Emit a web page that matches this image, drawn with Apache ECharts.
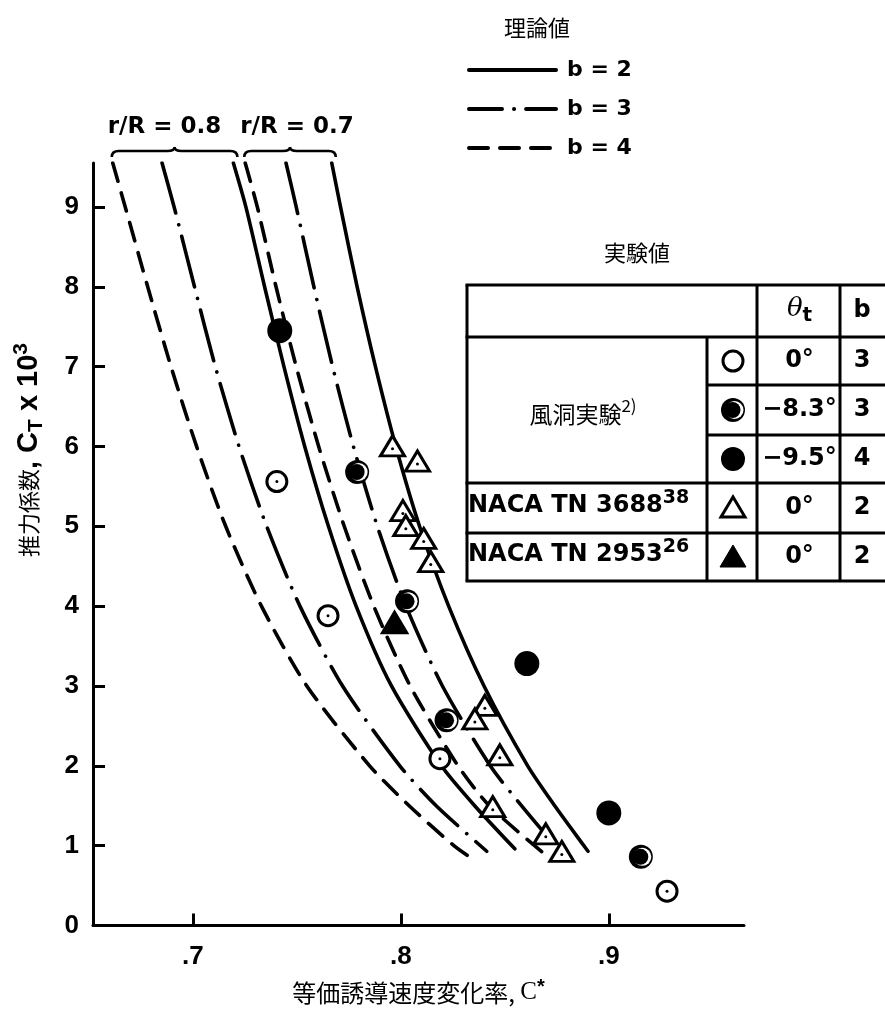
<!DOCTYPE html>
<html>
<head>
<meta charset="utf-8">
<script src="https://cdn.jsdelivr.net/npm/echarts@6/dist/echarts.min.js"></script>
<style>
  html, body { margin: 0; padding: 0; background: #fff; }
  #chart { width: 885px; height: 1010px; }
</style>
</head>
<body>
<div id="chart"></div>
<script>
// ---- Theory curves: [C*, CT x 10^3] ----
const theoryR08B4 = [[0.6615,9.55],[0.6675,9],[0.6783,8],[0.6895,7],[0.7018,6],[0.7158,5],[0.7330,4],[0.7548,3],[0.7850,2],[0.8040,1.5],[0.8255,1.0],[0.8330,0.86]];
const theoryR08B3 = [[0.6852,9.55],[0.6910,9],[0.7008,8],[0.7108,7],[0.7222,6],[0.7355,5],[0.7515,4],[0.7720,3],[0.7995,2],[0.8170,1.5],[0.8413,0.93]];
const theoryR08B2 = [[0.7195,9.55],[0.7255,9],[0.7345,8],[0.7438,7],[0.7538,6],[0.7652,5],[0.7785,4],[0.7955,3],[0.8195,2],[0.8355,1.5],[0.8548,0.96]];
const theoryR07B4 = [[0.7252,9.55],[0.7310,9],[0.7400,8],[0.7497,7],[0.7605,6],[0.7728,5],[0.7870,4],[0.8045,3],[0.8275,2],[0.8425,1.5],[0.8680,0.92]];
const theoryR07B3 = [[0.7448,9.55],[0.7497,9],[0.7582,8],[0.7672,7],[0.7772,6],[0.7887,5],[0.8025,4],[0.8200,3],[0.8430,2],[0.8580,1.5],[0.8774,0.9]];
const theoryR07B2 = [[0.7668,9.55],[0.7710,9],[0.7790,8],[0.7878,7],[0.7976,6],[0.8090,5],[0.8230,4],[0.8400,3],[0.8610,2],[0.8740,1.5],[0.8880,1.0],[0.8900,0.93]];

// ---- Measurements ----
const windTunnel0 = [[0.7404,5.56],[0.765,3.88],[0.8188,2.09],[0.928,0.43]];        // θt = 0°,   b = 3
const windTunnel83 = [[0.779,5.68],[0.803,4.06],[0.822,2.57],[0.9154,0.86]];        // θt = -8.3°, b = 3
const windTunnel95 = [[0.7418,7.45],[0.8606,3.28],[0.900,1.41]];                    // θt = -9.5°, b = 4
const naca3688 = [[0.796,5.97],[0.808,5.78],[0.801,5.16],[0.8024,4.97],[0.811,4.81],[0.8144,4.52],
                  [0.8404,2.72],[0.8356,2.55],[0.8476,2.10],[0.8442,1.45],[0.8697,1.11],[0.8774,0.89]];
const naca2953 = [[0.797,3.76]];

// ---- Axis ticks ----
const xTicks = [0.7, 0.8, 0.9];
const xTickLabels = ['.7', '.8', '.9'];
const yTicks = [1, 2, 3, 4, 5, 6, 7, 8, 9];
const yTickLabels = [0, 1, 2, 3, 4, 5, 6, 7, 8, 9];
const X_MIN = 0.652, X_MAX = 0.965, Y_MIN = 0, Y_MAX = 9.55;

// ---- Text ----
const bladeGroups = ['r/R = 0.8', 'r/R = 0.7'];
const theoryTitle = '理論値';
const theoryLabels = ['b = 2', 'b = 3', 'b = 4'];
const expTitle = '実験値';
const expSources = ['風洞実験', 'NACA TN 3688', 'NACA TN 2953'];
const expRefs = ['2)', '38', '26'];
const expTheta = ['0°', '−8.3°', '−9.5°', '0°', '0°'];
const expB = ['3', '3', '4', '2', '2'];

const FONT_BOLD = '"DejaVu Sans", sans-serif';
const FONT_NUM = '"Liberation Sans", Arial, sans-serif';
const FONT_CJK = '"Noto Sans CJK JP", sans-serif';
const BLACK = '#000';

const LINE_W = 3.6;
const DASH = { solid: 'solid', dashDot: [52, 12, 0.1, 12], dashed: [19, 12] };

function curve(name, data, dash) {
  return {
    type: 'line', name, data, smooth: 0.25, symbol: 'none', silent: true, z: 2,
    lineStyle: { color: BLACK, width: LINE_W, type: dash, cap: 'round', join: 'round' }
  };
}

const braceData = [
  [theoryR08B4[0][0], theoryR08B2[0][0], Y_MAX, 0],
  [theoryR07B4[0][0], theoryR07B2[0][0], Y_MAX, 1]
];

const braceSeries = {
  type: 'custom', silent: true, clip: false, z: 3,
  data: braceData,
  renderItem(params, api) {
    const a = api.coord([api.value(0), api.value(2)]);
    const b = api.coord([api.value(1), api.value(2)]);
    const x1 = a[0] - 1, x2 = b[0] + 4, base = a[1];
    const yEnd = base - 6, yBar = base - 12, yTip = base - 16, xm = (x1 + x2) / 2, r = 7;
    const d = `M${x1},${yEnd} Q${x1},${yBar} ${x1 + r},${yBar} L${xm - r},${yBar} Q${xm},${yBar} ${xm},${yTip} ` +
              `Q${xm},${yBar} ${xm + r},${yBar} L${x2 - r},${yBar} Q${x2},${yBar} ${x2},${yEnd}`;
    return {
      type: 'group',
      children: [
        { type: 'path', shape: { pathData: d }, style: { fill: null, stroke: BLACK, lineWidth: 2.6 } },
        { type: 'text', x: x1 - 4, y: base - 36,
          style: { text: bladeGroups[api.value(3)], fill: BLACK, font: `bold 23px ${FONT_BOLD}`, align: 'left', verticalAlign: 'middle' } }
      ]
    };
  }
};

const triSize = [24, 20];
const triOffset = [0, -3];
const solidItem = (o) => Object.assign({ opacity: 1 }, o);

const series = [
  curve('R08B4', theoryR08B4, DASH.dashed),
  curve('R08B3', theoryR08B3, DASH.dashDot),
  curve('R08B2', theoryR08B2, DASH.solid),
  curve('R07B4', theoryR07B4, DASH.dashed),
  curve('R07B3', theoryR07B3, DASH.dashDot),
  curve('R07B2', theoryR07B2, DASH.solid),
  braceSeries,
  // open circles
  { type: 'scatter', data: windTunnel0, symbol: 'circle', symbolSize: 20, z: 5,
    itemStyle: solidItem({ color: '#fff', borderColor: BLACK, borderWidth: 3 }) },
  // half-filled circles: black disc, white crescent, black core
  { type: 'scatter', data: windTunnel83, symbol: 'circle', symbolSize: 24, z: 5, itemStyle: solidItem({ color: BLACK }) },
  { type: 'scatter', data: windTunnel83, symbol: 'circle', symbolSize: 18, symbolOffset: [1.5, 0], z: 6, itemStyle: solidItem({ color: '#fff' }) },
  { type: 'scatter', data: windTunnel83, symbol: 'circle', symbolSize: 16, symbolOffset: [-0.5, 0], z: 7, itemStyle: solidItem({ color: BLACK }) },
  // filled circles
  { type: 'scatter', data: windTunnel95, symbol: 'circle', symbolSize: 25, z: 5, itemStyle: solidItem({ color: BLACK }) },
  // open triangles
  { type: 'scatter', data: naca3688, symbol: 'triangle', symbolSize: triSize, symbolOffset: triOffset, z: 5,
    itemStyle: solidItem({ color: '#fff', borderColor: BLACK, borderWidth: 3 }) },
  // filled triangle
  { type: 'scatter', data: naca2953, symbol: 'triangle', symbolSize: [26, 22], symbolOffset: triOffset, z: 5,
    itemStyle: solidItem({ color: BLACK, borderColor: BLACK, borderWidth: 2 }) },
  // centre dots of the open markers
  { type: 'scatter', data: windTunnel0.concat(naca3688), symbol: 'circle', symbolSize: 3, z: 8, itemStyle: solidItem({ color: BLACK }) }
];

// ---- Legend of theory lines ----
const legendDash = [null, [33, 12, 0.1, 12], [19, 12]];
const graphics = [];
graphics.push({ type: 'text', x: 537, y: 28, style: { text: theoryTitle, fill: BLACK, font: `22px ${FONT_CJK}`, align: 'center', verticalAlign: 'middle' } });
theoryLabels.forEach((lab, i) => {
  const y = 70 + i * 39;
  graphics.push({ type: 'line', shape: { x1: 469, y1: y, x2: 556, y2: y },
    style: { stroke: BLACK, lineWidth: 4, lineCap: 'round', lineDash: legendDash[i] } });
  graphics.push({ type: 'text', x: 567, y: y, style: { text: lab, fill: BLACK, font: `bold 22px ${FONT_BOLD}`, align: 'left', verticalAlign: 'middle' } });
});

// ---- Table of measurements ----
const cols = [467, 707, 757, 840];
const rows = [285, 337, 385, 435, 483, 533, 581];
const tRight = 886;
const TW = 3;
const hLine = (y, x1, x2) => graphics.push({ type: 'line', shape: { x1, y1: y, x2, y2: y }, style: { stroke: BLACK, lineWidth: TW } });
const vLine = (x, y1, y2) => graphics.push({ type: 'line', shape: { x1: x, y1, x2: x, y2 }, style: { stroke: BLACK, lineWidth: TW } });
graphics.push({ type: 'text', x: 637, y: 253, style: { text: expTitle, fill: BLACK, font: `22px ${FONT_CJK}`, align: 'center', verticalAlign: 'middle' } });
[285, 337, 483, 533, 581].forEach(y => hLine(y, cols[0] - 1.5, tRight));
[385, 435].forEach(y => hLine(y, cols[1], tRight));
vLine(cols[0], rows[0], rows[6]);
vLine(cols[1], rows[1], rows[6]);
vLine(cols[2], rows[0], rows[6]);
vLine(cols[3], rows[0], rows[6]);

const rowMid = i => (rows[i] + rows[i + 1]) / 2;
const thetaX = (cols[2] + cols[3]) / 2 + 1;
const bX = 862;

// header
graphics.push({ type: 'text', x: thetaX, y: rowMid(0) - 2, style: {
  text: '{th|θ}{t|t}', align: 'center', verticalAlign: 'middle',
  rich: { th: { font: `italic 26px "DejaVu Serif", serif`, fill: BLACK, lineHeight: 34, verticalAlign: 'middle' },
          t: { font: `bold 20px ${FONT_BOLD}`, fill: BLACK, lineHeight: 20, verticalAlign: 'bottom' } } } });
graphics.push({ type: 'text', x: bX, y: rowMid(0), style: { text: 'b', fill: BLACK, font: `bold 24px ${FONT_BOLD}`, align: 'center', verticalAlign: 'middle' } });

// source names
const supRich = {
  m: { font: `bold 24px ${FONT_BOLD}`, fill: BLACK, lineHeight: 34, verticalAlign: 'middle' },
  j: { font: `23px ${FONT_CJK}`, fill: BLACK, lineHeight: 34, verticalAlign: 'middle' },
  s: { font: `bold 19px ${FONT_BOLD}`, fill: BLACK, lineHeight: 19, verticalAlign: 'top' },
  r: { font: `17px ${FONT_CJK}`, fill: BLACK, lineHeight: 17, verticalAlign: 'top' }
};
graphics.push({ type: 'text', x: (cols[0] + cols[1]) / 2 - 4, y: (rows[1] + rows[4]) / 2 + 4,
  style: { text: `{j|${expSources[0]}}{r|${expRefs[0]}}`, align: 'center', verticalAlign: 'middle', rich: supRich } });
graphics.push({ type: 'text', x: cols[0] + 1, y: rowMid(4) - 2,
  style: { text: `{m|${expSources[1]}}{s|${expRefs[1]}}`, align: 'left', verticalAlign: 'middle', rich: supRich } });
graphics.push({ type: 'text', x: cols[0] + 1, y: rowMid(5) - 2,
  style: { text: `{m|${expSources[2]}}{s|${expRefs[2]}}`, align: 'left', verticalAlign: 'middle', rich: supRich } });

// θt and b columns
expTheta.forEach((t, i) => {
  graphics.push({ type: 'text', x: thetaX, y: rowMid(i + 1), style: { text: t, fill: BLACK, font: `bold 24px ${FONT_BOLD}`, align: 'center', verticalAlign: 'middle' } });
  graphics.push({ type: 'text', x: bX, y: rowMid(i + 1), style: { text: expB[i], fill: BLACK, font: `bold 24px ${FONT_BOLD}`, align: 'center', verticalAlign: 'middle' } });
});

// marker keys
const kx = (cols[1] + cols[2]) / 2 + 1;
let ky = rowMid(1);
graphics.push({ type: 'circle', shape: { cx: kx, cy: ky, r: 10 }, style: { fill: '#fff', stroke: BLACK, lineWidth: 3 } });
ky = rowMid(2);
graphics.push({ type: 'circle', shape: { cx: kx, cy: ky, r: 12 }, style: { fill: BLACK } });
graphics.push({ type: 'circle', shape: { cx: kx + 1.5, cy: ky, r: 9 }, style: { fill: '#fff' } });
graphics.push({ type: 'circle', shape: { cx: kx - 0.5, cy: ky, r: 8 }, style: { fill: BLACK } });
ky = rowMid(3);
graphics.push({ type: 'circle', shape: { cx: kx, cy: ky, r: 12 }, style: { fill: BLACK } });
ky = rowMid(4);
graphics.push({ type: 'polygon', shape: { points: [[kx - 12, ky + 9], [kx + 12, ky + 9], [kx, ky - 11]] }, style: { fill: '#fff', stroke: BLACK, lineWidth: 3 } });
ky = rowMid(5);
graphics.push({ type: 'polygon', shape: { points: [[kx - 13, ky + 10], [kx + 13, ky + 10], [kx, ky - 12]] }, style: { fill: BLACK, stroke: BLACK, lineWidth: 1 } });

// ---- Y axis title ----
graphics.push({ type: 'text', x: 29, y: 450, rotation: Math.PI / 2, style: {
  text: '{c|推力係数}{l|, C}{sub|T}{l| x 10}{sup|3}', align: 'center', verticalAlign: 'middle',
  rich: {
    c: { font: `22px ${FONT_CJK}`, fill: BLACK, lineHeight: 36, verticalAlign: 'middle' },
    l: { font: `bold 29px ${FONT_NUM}`, fill: BLACK, lineHeight: 36, verticalAlign: 'middle' },
    sub: { font: `bold 21px ${FONT_NUM}`, fill: BLACK, lineHeight: 22, verticalAlign: 'bottom' },
    sup: { font: `bold 21px ${FONT_NUM}`, fill: BLACK, lineHeight: 22, verticalAlign: 'top' }
  } } });

const chart = echarts.init(document.getElementById('chart'), null, { renderer: 'canvas' });
chart.setOption({
  animation: false,
  backgroundColor: '#fff',
  grid: { left: 93, top: 163, width: 651, height: 764 },
  xAxis: {
    type: 'value', min: X_MIN, max: X_MAX,
    name: '{c|等価誘導速度変化率, }{l|C}{s|*}', nameLocation: 'middle', nameGap: 52,
    nameTextStyle: { rich: {
      c: { fontFamily: FONT_CJK, fontSize: 24, color: BLACK, lineHeight: 30, verticalAlign: 'middle' },
      l: { fontFamily: '"Liberation Serif", serif', fontSize: 25, color: BLACK, lineHeight: 30, verticalAlign: 'middle' },
      s: { fontFamily: FONT_NUM, fontWeight: 'bold', fontSize: 20, color: BLACK, lineHeight: 18, verticalAlign: 'top' }
    } },
    axisLine: { onZero: false, lineStyle: { color: BLACK, width: 3 } },
    axisTick: { inside: true, length: 12, customValues: xTicks, lineStyle: { color: BLACK, width: 3 } },
    axisLabel: { customValues: xTicks, margin: 18, color: BLACK, fontFamily: FONT_NUM, fontWeight: 'bold', fontSize: 26,
      formatter: v => xTickLabels[xTicks.findIndex(t => Math.abs(t - v) < 1e-6)] || '' },
    splitLine: { show: false }
  },
  yAxis: {
    type: 'value', min: Y_MIN, max: Y_MAX,
    axisLine: { onZero: false, lineStyle: { color: BLACK, width: 3 } },
    axisTick: { inside: true, length: 12, customValues: yTicks, lineStyle: { color: BLACK, width: 3 } },
    axisLabel: { customValues: yTickLabels, margin: 14, color: BLACK, fontFamily: FONT_NUM, fontWeight: 'bold', fontSize: 26,
      formatter: v => String(Math.round(v)) },
    splitLine: { show: false }
  },
  series,
  graphic: graphics
});
</script>
</body>
</html>
